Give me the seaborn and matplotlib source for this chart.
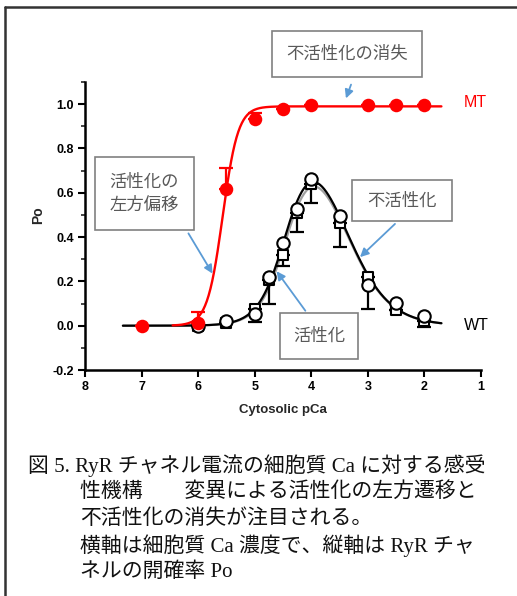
import numpy as np
import pandas as pd
import matplotlib
matplotlib.use("Agg")
import matplotlib.pyplot as plt
import seaborn as sns
from matplotlib.patches import Rectangle
from matplotlib.lines import Line2D

# ---------------- data ----------------
mt_pca = [7, 6, 5.5, 5, 4.5, 4, 3, 2.5, 2]
mt_po = [0.0, 0.01, 0.615, 0.932, 0.98, 0.997, 0.997, 0.997, 0.997]
mt_err_up = [0.0, 0.05, 0.095, 0.03, 0.0, 0.0, 0.0, 0.0, 0.0]

wt_circ_pca = [6, 5.5, 5, 4.75, 4.5, 4.25, 4, 3.5, 3, 2.5, 2]
wt_circ_po = [0.0, 0.019, 0.054, 0.222, 0.375, 0.525, 0.66, 0.495, 0.185, 0.102, 0.042]

wt_sq_pca = [6, 5.5, 5, 4.75, 4.5, 4.25, 4, 3.5, 3, 2.5, 2]
wt_sq_po = [0.0, 0.012, 0.075, 0.204, 0.318, 0.507, 0.64, 0.462, 0.222, 0.072, 0.02]
wt_sq_err_dn = [0.0, 0.0, 0.058, 0.104, 0.048, 0.082, 0.087, 0.109, 0.145, 0.0, 0.028]

# fit parameters (Hill / bell-shaped)
mt_fit = dict(pmax=0.99, k=5.566, n=3.2, start=6.45, end=1.7)
wt_fit = dict(pmax=0.95, ka=4.42, na=1.8, ki=3.45, ni=1.1, start=7.33, end=1.7)
wt_fit2 = dict(pmax=0.93, ka=4.40, na=1.8, ki=3.45, ni=1.1, start=7.33, end=1.7)

x_ticks = [8, 7, 6, 5, 4, 3, 2, 1]
y_ticks = [-0.2, 0.0, 0.2, 0.4, 0.6, 0.8, 1.0]

caption = ["図 5. RyR チャネル電流の細胞質 Ca に対する感受",
           "性機構　　変異による活性化の左方遷移と",
           "不活性化の消失が注目される。",
           "横軸は細胞質 Ca 濃度で、縦軸は RyR チャ",
           "ネルの開確率 Po"]

# ---------------- figure ----------------
W, H = 517, 596
sns.set_theme(style="ticks")
plt.rcParams['font.family'] = ['Liberation Sans', 'Noto Sans CJK JP', 'DejaVu Sans']
fig = plt.figure(figsize=(W / 100, H / 100), dpi=100)
fig.patch.set_facecolor('white')

def fx(px):
    return px / W

def fy(py):
    return 1 - py / H

ax = fig.add_axes([fx(85), fy(370), fx(481) - fx(85), fy(82) - fy(370)])
ax.set_facecolor('white')

def hill(x, p):
    return p['pmax'] / (1 + 10 ** (p['n'] * (x - p['k'])))

def bell(x, p):
    return p['pmax'] / ((1 + 10 ** (p['na'] * (x - p['ka']))) * (1 + 10 ** (p['ni'] * (p['ki'] - x))))

xm = np.linspace(mt_fit['start'], mt_fit['end'], 300)
xw = np.linspace(wt_fit['start'], wt_fit['end'], 300)
df_mt = pd.DataFrame({'x': xm, 'y': hill(xm, mt_fit)})
df_wt = pd.DataFrame({'x': xw, 'y': bell(xw, wt_fit)})
df_wt2 = pd.DataFrame({'x': xw, 'y': bell(xw, wt_fit2)})

sns.lineplot(data=df_wt2, x='x', y='y', ax=ax, color='#a0a0a0', lw=1.6, sort=False, zorder=2)
sns.lineplot(data=df_wt, x='x', y='y', ax=ax, color='black', lw=1.6, sort=False, zorder=3)

# WT squares with downward error bars
ax.errorbar(wt_sq_pca, wt_sq_po, yerr=[wt_sq_err_dn, [0] * len(wt_sq_err_dn)], fmt='none',
            ecolor='black', elinewidth=1.6, capsize=5, capthick=1.6, zorder=4)
sns.scatterplot(x=wt_sq_pca, y=wt_sq_po, ax=ax, marker='s', s=60, facecolor='white',
                edgecolor='black', linewidth=1.5, zorder=5)
sns.scatterplot(x=wt_circ_pca, y=wt_circ_po, ax=ax, marker='o', s=80, facecolor='white',
                edgecolor='black', linewidth=1.5, zorder=6)

# MT
sns.lineplot(data=df_mt, x='x', y='y', ax=ax, color='#ff0000', lw=1.7, sort=False, zorder=7)
ax.errorbar(mt_pca, mt_po, yerr=[[0] * len(mt_err_up), mt_err_up], fmt='none',
            ecolor='#ff0000', elinewidth=1.6, capsize=5, capthick=1.6, zorder=8)
sns.scatterplot(x=mt_pca, y=mt_po, ax=ax, marker='o', s=95, color='#ff0000',
                edgecolor='#ff0000', linewidth=0, zorder=9)

ax.set_xlim(8, 1)
ax.set_ylim(-0.2, 1.1)
ax.set_xticks(x_ticks)
ax.set_xticklabels([str(t) for t in x_ticks], fontweight='bold', fontsize=9)
ax.set_yticks(y_ticks)
ax.set_yticklabels([f"{t:.1f}" for t in y_ticks], fontweight='bold', fontsize=9)
ax.set_yticks(np.arange(-0.1, 1.1, 0.2), minor=True)
ax.tick_params(axis='both', which='major', direction='out', length=5, width=1.5, pad=3, colors='black')
ax.tick_params(axis='y', which='minor', direction='out', length=3, width=1.2)
for s in ['top', 'right']:
    ax.spines[s].set_visible(False)
for s in ['left', 'bottom']:
    ax.spines[s].set_linewidth(1.8)
    ax.spines[s].set_color('black')
ax.set_xlabel('')
ax.set_ylabel('')

fig.text(fx(38), fy(215), 'Po', rotation=90, fontweight='bold', fontsize=10, ha='center', va='center')
fig.text(fx(283), fy(410), 'Cytosolic pCa', fontweight='bold', fontsize=9.5, ha='center', va='center')

fig.text(fx(475), fy(103), 'MT', color='#ff0000', fontsize=11.5, ha='center', va='center')
fig.text(fx(476), fy(325), 'WT', color='black', fontsize=11.5, ha='center', va='center')

# annotation boxes
box_font = ['Noto Sans CJK JP', 'DejaVu Sans']
def box(x0, y0, x1, y1, text):
    r = Rectangle((fx(x0), fy(y1)), fx(x1) - fx(x0), fy(y0) - fy(y1), transform=fig.transFigure,
                  facecolor='white', edgecolor='#808080', lw=1.2, zorder=20)
    fig.add_artist(r)
    fig.text(fx((x0 + x1) / 2), fy((y0 + y1) / 2), text, ha='center', va='center', fontsize=12.5,
             color='#595959', family=box_font, linespacing=1.35, zorder=21)

def arrow(xa, ya, xb, yb):
    fig.add_artist(matplotlib.patches.FancyArrowPatch(
        (fx(xa), fy(ya)), (fx(xb), fy(yb)), transform=fig.transFigure,
        arrowstyle='-|>,head_length=5,head_width=2.5', color='#5b9bd5', lw=1.3, zorder=19))

box(272, 31, 422, 77, '不活性化の消失')
arrow(352, 82, 345, 101)
box(95, 157, 194, 230, '活性化の\n左方偏移')
arrow(187, 231, 214, 276)
box(352, 180, 452, 221, '不活性化')
arrow(397, 222, 358, 259)
box(280, 313, 358, 359, '活性化')
arrow(307, 313, 275, 269)

# caption
cap_font = ['Liberation Serif', 'Noto Sans CJK JP']
cap_pos = [(28, 466), (80, 492), (80, 519), (80, 546), (80, 572)]
for (cx, cy), line in zip(cap_pos, caption):
    fig.text(fx(cx), fy(cy), line, ha='left', va='center', fontsize=15, family=cap_font, color='#111111')

# outer frame lines (top and left)
fig.add_artist(Line2D([fx(5), 1.0], [fy(7), fy(7)], transform=fig.transFigure, color='#333333', lw=1.8))
fig.add_artist(Line2D([fx(5), fx(5)], [fy(7), 0.0], transform=fig.transFigure, color='#333333', lw=1.8))

fig.savefig('out.png', dpi=100, facecolor='white')
